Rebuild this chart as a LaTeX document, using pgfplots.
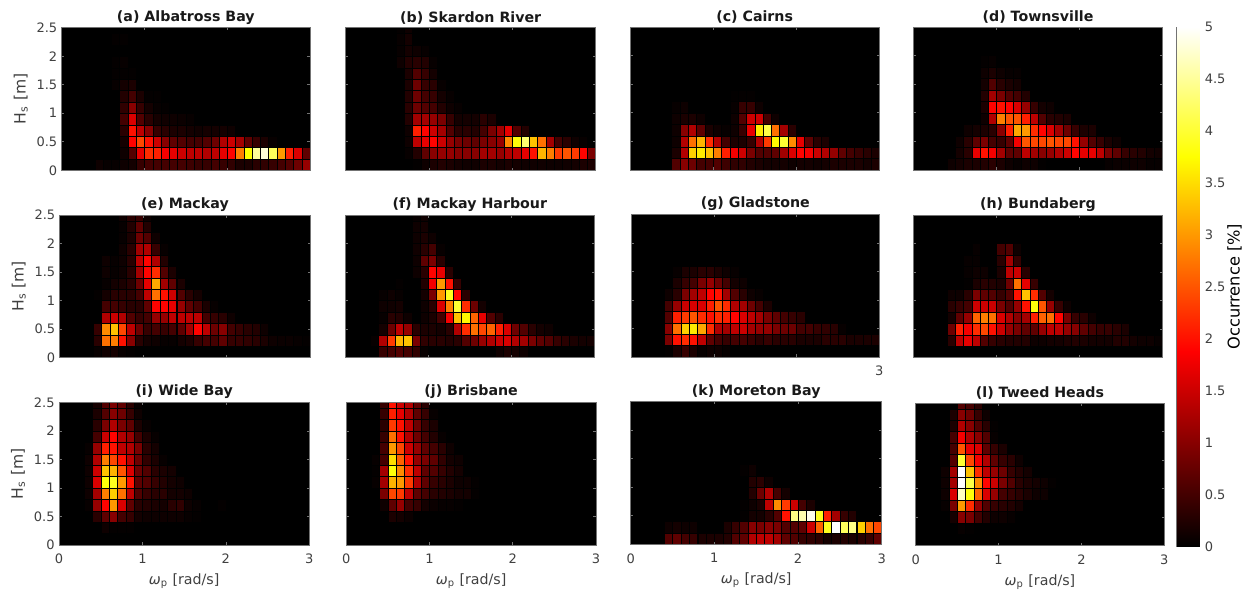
\documentclass[border=0pt]{standalone}
\usepackage{fontspec}
\setmainfont{DejaVu Sans}
\usepackage{pgfplots}
\usepackage{pgfplotstable}
\pgfplotsset{compat=1.18}
\pgfdeclareplotmark{cell}{\pgfpathrectangle{\pgfpoint{-2.075pt}{-2.86pt}}{\pgfpoint{4.15pt}{5.72pt}}\pgfusepathqfillstroke}
\pgfdeclareplotmark{cellh}{\pgfpathrectangle{\pgfpoint{-2.075pt}{-1.43pt}}{\pgfpoint{4.15pt}{2.86pt}}\pgfusepathqfillstroke}
\pgfplotsset{
  colormap={hotm}{rgb(0pt)=(0,0,0); rgb(3pt)=(1,0,0); rgb(6pt)=(1,1,0); rgb(8pt)=(1,1,1)},
  pan/.style n args={4}{at={({#1*0.5pt},{(592-#4)*0.5pt})},anchor=south west,width={(#2-#1)*0.5pt},height={(#4-#3)*0.5pt}},
  base/.style={scale only axis,colormap name=hotm,point meta min=0,point meta max=5,
    axis line style={draw=black!55,line width=0.4pt},
    tick style={draw=black!55,line width=0.3pt},tick align=inside,major tick length=1.3pt,
    tick label style={font=\fontsize{6.5}{8}\selectfont,text=black!75},
    label style={font=\fontsize{7.1}{9}\selectfont,text=black!75},
  },
  cellax/.style={base,axis on top,axis background/.style={fill=black},clip marker paths=true,
    xmin=0,xmax=3,ymin=0,ymax=2.5,xtick={0,1,2,3},ytick={0,0.5,1,1.5,2,2.5},
    xticklabels={},yticklabels={},
    title style={font=\bfseries\fontsize{7.1}{8}\selectfont,text=black!90,yshift=-7.9pt},
    xticklabel style={yshift=-1pt},yticklabel style={xshift=1.3pt}},
  ylab/.style={yticklabels={0,0.5,1,1.5,2,2.5},ylabel={H\textsubscript{s} [m]},ylabel style={yshift=-2.5pt,font=\fontsize{7.8}{9}\selectfont}},
  xlab/.style={xticklabels={0,1,2,3},xlabel={{\itshape ω}\textsubscript{p} [rad/s]},xlabel style={yshift=2pt}},
}
\newcommand\cells[1]{\addplot[scatter,only marks,mark=cell,scatter src=explicit,
   scatter/use mapped color={draw=black,fill=mapped color},mark options={line width=0.13pt},
   restrict expr to domain={\thisrow{r}}{1:12}]
   table[x expr=(\thisrow{c}-0.5)*0.1,y expr=(\thisrow{r}-0.5)*0.2,meta=v]{#1};
   \addplot[scatter,only marks,mark=cellh,scatter src=explicit,
   scatter/use mapped color={draw=black,fill=mapped color},mark options={line width=0.13pt},
   restrict expr to domain={\thisrow{r}}{13:13}]
   table[x expr=(\thisrow{c}-0.5)*0.1,y expr=2.45,meta=v]{#1};}

\pgfplotstableread[row sep=crcr]{r c v\\
1 5 .1\\1 6 .05\\1 7 .05\\1 8 .1\\1 9 .15\\1 10 .4\\1 11 .5\\1 12 .5\\1 13 .5\\1 14 .5\\1 15 .5\\1 16 .45\\1 17 .4\\1 18 .4\\1 19 .5\\1 20 .4\\1 21 .35\\1 22 .2\\1 23 .2\\1 24 .3\\1 25 .35\\1 26 .4\\1 27 .5\\1 28 .6\\1 29 .8\\1 30 1.1\\
2 8 .1\\2 9 .6\\2 10 1.7\\2 11 2.2\\2 12 2.1\\2 13 1.8\\2 14 1.7\\2 15 1.5\\2 16 1.4\\2 17 1.4\\2 18 1.3\\2 19 1.4\\2 20 1.7\\2 21 1.9\\2 22 2.8\\2 23 3.75\\2 24 4.5\\2 25 4.8\\2 26 4.2\\2 27 3.0\\2 28 2.1\\2 29 1.6\\2 30 .7\\
3 8 .15\\3 9 1.9\\3 10 2.4\\3 11 2.0\\3 12 1.5\\3 13 1.0\\3 14 .7\\3 15 .6\\3 16 .5\\3 17 .5\\3 18 .6\\3 19 .8\\3 20 1.3\\3 21 1.5\\3 22 1.2\\3 23 .7\\3 24 .4\\3 25 .2\\3 26 .05\\
4 8 .3\\4 9 2.0\\4 10 1.4\\4 11 1.0\\4 12 .4\\4 13 .3\\4 14 .2\\4 15 .2\\4 16 .15\\4 17 .12\\4 18 .15\\4 19 .15\\4 20 .15\\4 21 .1\\
5 8 .5\\5 9 1.6\\5 10 .6\\5 11 .3\\5 12 .15\\5 13 .12\\5 14 .1\\5 15 .08\\5 16 .05\\
6 8 .35\\6 9 1.0\\6 10 .4\\6 11 .15\\6 12 .05\\6 13 .03\\
7 8 .25\\7 9 .5\\7 10 .2\\7 11 .03\\7 12 .03\\
8 7 .05\\8 8 .15\\8 9 .2\\
9 7 .03\\9 8 .03\\9 9 .03\\
10 7 .03\\10 8 .05\\
12 7 .03\\12 8 .03\\
}\ta
\pgfplotstableread[row sep=crcr]{r c v\\
1 9 .02\\1 10 .1\\1 11 .2\\1 12 .25\\1 13 .2\\1 14 .15\\1 15 .12\\1 16 .12\\1 17 .2\\1 18 .2\\1 19 .15\\1 20 .2\\1 21 .15\\1 22 .12\\1 23 .12\\1 24 .12\\1 25 .1\\1 26 .1\\1 27 .12\\1 28 .15\\1 29 .2\\1 30 .2\\
2 8 .05\\2 9 .25\\2 10 .7\\2 11 1.0\\2 12 1.1\\2 13 1.1\\2 14 1.0\\2 15 1.0\\2 16 1.0\\2 17 1.2\\2 18 1.2\\2 19 1.1\\2 20 1.3\\2 21 1.4\\2 22 1.7\\2 23 2.0\\2 24 3.2\\2 25 2.8\\2 26 2.3\\2 27 2.5\\2 28 2.3\\2 29 1.9\\2 30 .9\\
3 8 .1\\3 9 1.4\\3 10 1.7\\3 11 1.9\\3 12 1.5\\3 13 1.1\\3 14 .9\\3 15 .8\\3 16 .7\\3 17 .9\\3 18 1.0\\3 19 1.1\\3 20 2.9\\3 21 3.8\\3 22 4.3\\3 23 3.3\\3 24 2.7\\3 25 1.2\\3 26 .5\\3 27 .3\\3 28 .1\\3 29 .05\\
4 8 .1\\4 9 2.1\\4 10 1.9\\4 11 1.5\\4 12 1.2\\4 13 .6\\4 14 .3\\4 15 .3\\4 16 .25\\4 17 .5\\4 18 .9\\4 19 1.2\\4 20 1.7\\4 21 .6\\4 22 .25\\
5 8 .25\\5 9 1.2\\5 10 1.2\\5 11 1.1\\5 12 .9\\5 13 .4\\5 14 .15\\5 15 .15\\5 16 .15\\5 17 .3\\5 18 .2\\
6 8 .3\\6 9 .8\\6 10 .6\\6 11 .5\\6 12 .25\\6 13 .1\\6 14 .05\\
7 8 .25\\7 9 .8\\7 10 .5\\7 11 .4\\7 12 .15\\7 13 .05\\
8 8 .2\\8 9 .8\\8 10 .4\\8 11 .3\\8 12 .05\\
9 8 .2\\9 9 .6\\9 10 .4\\9 11 .15\\
10 7 .1\\10 8 .25\\10 9 .3\\10 10 .25\\10 11 .05\\
11 7 .05\\11 8 .15\\11 9 .1\\11 10 .05\\
12 7 .05\\12 8 .15\\
13 7 .03\\13 8 .1\\
}\tb
\pgfplotstableread[row sep=crcr]{r c v\\
1 6 .6\\1 7 1.0\\1 8 .8\\1 9 .5\\1 10 .5\\1 11 .6\\1 12 .45\\1 13 .35\\1 14 .35\\1 15 .25\\1 16 .2\\1 17 .15\\1 18 .15\\1 19 .15\\1 20 .1\\1 21 .15\\1 22 .15\\1 23 .12\\1 24 .15\\1 25 .2\\1 26 .2\\1 27 .2\\1 28 .2\\1 29 .15\\1 30 .2\\
2 6 .2\\2 7 1.3\\2 8 3.4\\2 9 3.6\\2 10 3.3\\2 11 2.8\\2 12 2.1\\2 13 1.8\\2 14 1.5\\2 15 .9\\2 16 .6\\2 17 .6\\2 18 .7\\2 19 1.2\\2 20 1.6\\2 21 1.9\\2 22 1.8\\2 23 1.5\\2 24 1.3\\2 25 1.1\\2 26 .7\\2 27 .5\\2 28 .4\\2 29 .3\\2 30 .2\\
3 6 .1\\3 7 1.3\\3 8 2.7\\3 9 3.2\\3 10 2.2\\3 11 1.3\\3 12 .5\\3 13 .2\\3 14 .2\\3 15 .4\\3 16 1.3\\3 17 2.3\\3 18 3.7\\3 19 4.0\\3 20 2.9\\3 21 1.7\\3 22 .7\\3 23 .3\\3 24 .2\\
4 6 .1\\4 7 1.0\\4 8 1.3\\4 9 .7\\4 10 .2\\4 11 .1\\4 12 .05\\4 13 .1\\4 14 .4\\4 15 1.7\\4 16 3.6\\4 17 4.1\\4 18 2.7\\4 19 1.2\\4 20 .3\\
5 6 .1\\5 7 .2\\5 8 .2\\5 9 .1\\5 13 .1\\5 14 .6\\5 15 1.5\\5 16 1.5\\5 17 .5\\5 18 .1\\
6 6 .05\\6 7 .1\\6 13 .05\\6 14 .4\\6 15 .4\\6 16 .1\\
7 13 .02\\7 14 .03\\7 15 .03\\
}\tc
\pgfplotstableread[row sep=crcr]{r c v\\
1 5 .1\\1 6 .15\\1 7 .2\\1 8 .2\\1 9 .25\\1 10 .3\\1 11 .2\\1 12 .1\\1 13 .05\\1 14 .1\\1 15 .1\\1 16 .02\\1 24 .05\\1 25 .08\\1 26 .08\\1 27 .1\\1 28 .1\\1 29 .05\\1 30 .05\\
2 6 .15\\2 7 .3\\2 8 1.7\\2 9 2.0\\2 10 1.8\\2 11 1.2\\2 12 .7\\2 13 .7\\2 14 1.4\\2 15 1.2\\2 16 1.0\\2 17 1.1\\2 18 1.3\\2 19 1.5\\2 20 1.9\\2 21 1.7\\2 22 1.7\\2 23 1.4\\2 24 .9\\2 25 .7\\2 26 .4\\2 27 .3\\2 28 .25\\2 29 .15\\2 30 .12\\
3 6 .1\\3 7 .3\\3 8 .7\\3 9 .9\\3 10 .5\\3 11 .4\\3 12 .7\\3 13 1.8\\3 14 2.5\\3 15 2.4\\3 16 2.4\\3 17 2.5\\3 18 2.4\\3 19 2.4\\3 20 2.0\\3 21 1.1\\3 22 .6\\3 23 .4\\3 24 .2\\3 25 .1\\
4 7 .1\\4 8 .15\\4 9 .2\\4 10 .3\\4 11 1.0\\4 12 2.1\\4 13 3.1\\4 14 3.0\\4 15 2.2\\4 16 1.9\\4 17 1.6\\4 18 1.2\\4 19 .8\\4 20 .4\\4 21 .2\\4 22 .2\\
5 9 .1\\5 10 1.3\\5 11 2.8\\5 12 2.5\\5 13 2.5\\5 14 2.1\\5 15 1.4\\5 16 .6\\5 17 .3\\5 18 .25\\5 19 .2\\
6 9 .2\\6 10 1.9\\6 11 2.0\\6 12 1.9\\6 13 1.6\\6 14 1.1\\6 15 .4\\6 16 .15\\6 17 .1\\
7 9 .25\\7 10 1.2\\7 11 .9\\7 12 .6\\7 13 .5\\7 14 .25\\
8 9 .15\\8 10 .6\\8 11 .3\\8 12 .2\\8 13 .15\\
9 9 .1\\9 10 .2\\9 11 .1\\9 12 .05\\9 13 .05\\
10 9 .03\\10 10 .05\\
}\td
\pgfplotstableread[row sep=crcr]{r c v\\
1 5 .05\\1 6 .12\\1 7 .15\\1 8 .05\\1 9 .02\\
2 5 .3\\2 6 2.7\\2 7 2.8\\2 8 2.0\\2 9 1.0\\2 10 .3\\2 11 .15\\2 12 .1\\2 13 .05\\2 14 .05\\2 15 .15\\2 16 .2\\2 17 .4\\2 18 .5\\2 19 .5\\2 20 .7\\2 21 .4\\2 22 .4\\2 23 .35\\2 24 .3\\2 25 .2\\2 26 .1\\2 27 .08\\2 28 .08\\2 29 .05\\2 30 .03\\
3 5 .4\\3 6 2.9\\3 7 3.3\\3 8 2.4\\3 9 1.4\\3 10 .8\\3 11 .4\\3 12 .5\\3 13 .4\\3 14 .5\\3 15 .7\\3 16 1.2\\3 17 1.9\\3 18 1.4\\3 19 .8\\3 20 1.0\\3 21 .5\\3 22 .4\\3 23 .3\\3 24 .25\\3 25 .1\\
4 6 1.3\\4 7 1.5\\4 8 1.3\\4 9 .6\\4 10 .4\\4 11 .5\\4 12 1.1\\4 13 1.1\\4 14 1.4\\4 15 1.4\\4 16 1.4\\4 17 1.4\\4 18 .5\\4 19 .4\\4 20 .3\\4 21 .1\\
5 6 .5\\5 7 .5\\5 8 .4\\5 9 .3\\5 10 .3\\5 11 .7\\5 12 1.9\\5 13 1.9\\5 14 1.7\\5 15 1.1\\5 16 .7\\5 17 .5\\5 18 .2\\5 19 .05\\
6 5 .03\\6 6 .15\\6 7 .3\\6 8 .3\\6 9 .3\\6 10 .5\\6 11 1.4\\6 12 2.7\\6 13 2.0\\6 14 1.5\\6 15 .6\\6 16 .3\\6 17 .15\\
7 6 .05\\7 7 .15\\7 8 .2\\7 9 .3\\7 10 .8\\7 11 1.7\\7 12 3.1\\7 13 1.2\\7 14 .7\\7 15 .2\\
8 6 .1\\8 7 .05\\8 8 .1\\8 9 .3\\8 10 1.2\\8 11 1.9\\8 12 2.2\\8 13 .6\\8 14 .2\\
9 6 .1\\9 7 .05\\9 8 .1\\9 9 .3\\9 10 1.4\\9 11 1.9\\9 12 1.3\\9 13 .25\\
10 8 .1\\10 9 .3\\10 10 1.2\\10 11 1.3\\10 12 .4\\10 13 .05\\
11 8 .05\\11 9 .2\\11 10 .8\\11 11 .6\\11 12 .1\\
12 8 .05\\12 9 .25\\12 10 .7\\12 11 .25\\
13 8 .1\\13 9 .3\\13 10 .4\\13 11 .1\\
}\te
\pgfplotstableread[row sep=crcr]{r c v\\
1 5 .4\\1 6 .5\\1 7 .6\\1 8 .5\\1 9 .35\\1 10 .05\\1 19 .1\\1 20 .2\\1 21 .15\\1 22 .1\\
2 4 .05\\2 5 1.3\\2 6 2.3\\2 7 3.2\\2 8 3.3\\2 9 .9\\2 10 .35\\2 11 .3\\2 12 .3\\2 13 .25\\2 14 .3\\2 15 .6\\2 16 .8\\2 17 1.1\\2 18 1.3\\2 19 1.5\\2 20 1.6\\2 21 1.3\\2 22 1.2\\2 23 .9\\2 24 .7\\2 25 .6\\2 26 .4\\2 27 .3\\2 28 .2\\2 29 .15\\2 30 .15\\
3 5 .15\\3 6 .8\\3 7 1.4\\3 8 1.1\\3 9 .3\\3 10 .2\\3 11 .2\\3 12 .15\\3 13 .3\\3 14 1.3\\3 15 2.2\\3 16 2.7\\3 17 2.4\\3 18 2.6\\3 19 2.1\\3 20 1.6\\3 21 .8\\3 22 .6\\3 23 .3\\3 24 .15\\3 25 .1\\
4 5 .05\\4 6 .3\\4 7 .25\\4 8 .1\\4 10 .1\\4 11 .2\\4 12 .5\\4 13 1.8\\4 14 3.3\\4 15 3.7\\4 16 2.6\\4 17 1.7\\4 18 .6\\4 19 .3\\
5 5 .1\\5 6 .12\\5 7 .15\\5 10 .1\\5 11 .3\\5 12 1.6\\5 13 2.8\\5 14 4.0\\5 15 2.2\\5 16 .8\\5 17 .15\\
6 5 .05\\6 6 .1\\6 7 .05\\6 10 .15\\6 11 .9\\6 12 3.0\\6 13 3.9\\6 14 1.9\\6 15 .3\\
7 7 .03\\7 10 .25\\7 11 1.8\\7 12 3.0\\7 13 2.0\\7 14 .4\\
8 9 .1\\8 10 .3\\8 11 1.9\\8 12 1.7\\8 13 .3\\
9 9 .1\\9 10 .7\\9 11 .9\\9 12 .3\\
10 9 .12\\10 10 .3\\10 11 .5\\10 12 .05\\
11 9 .1\\11 10 .2\\11 11 .1\\
12 9 .1\\12 10 .15\\
13 9 .05\\13 10 .1\\
}\tf
\pgfplotstableread[row sep=crcr]{r c v\\
1 5 .02\\1 6 .2\\1 7 .4\\1 8 .2\\1 9 .05\\1 10 .1\\1 11 .1\\1 12 .05\\
2 5 .9\\2 6 2.0\\2 7 2.2\\2 8 2.0\\2 9 1.4\\2 10 .7\\2 11 .5\\2 12 .4\\2 13 .5\\2 14 .5\\2 15 .4\\2 16 .3\\2 17 .4\\2 18 .3\\2 19 .3\\2 20 .3\\2 21 .2\\2 22 .2\\2 23 .2\\2 24 .3\\2 25 .3\\2 26 .3\\2 27 .2\\2 28 .2\\2 29 .2\\2 30 .2\\
3 5 1.0\\3 6 2.7\\3 7 3.4\\3 8 3.6\\3 9 3.1\\3 10 2.2\\3 11 1.3\\3 12 1.2\\3 13 1.4\\3 14 1.5\\3 15 1.2\\3 16 1.1\\3 17 1.1\\3 18 .9\\3 19 .8\\3 20 .8\\3 21 .5\\3 22 .5\\3 23 .4\\3 24 .35\\3 25 .3\\3 26 .05\\
4 5 .6\\4 6 2.1\\4 7 2.3\\4 8 2.5\\4 9 2.2\\4 10 2.0\\4 11 2.2\\4 12 2.1\\4 13 1.9\\4 14 1.6\\4 15 1.4\\4 16 1.2\\4 17 .9\\4 18 .7\\4 19 .5\\4 20 .4\\4 21 .3\\
5 5 .5\\5 6 1.1\\5 7 1.5\\5 8 1.6\\5 9 1.6\\5 10 2.1\\5 11 2.5\\5 12 2.2\\5 13 1.3\\5 14 1.2\\5 15 .8\\5 16 .5\\5 17 .2\\
6 5 .1\\6 6 .3\\6 7 .9\\6 8 1.2\\6 9 1.4\\6 10 1.9\\6 11 2.0\\6 12 1.2\\6 13 .6\\6 14 .3\\6 15 .1\\6 16 .05\\
7 6 .2\\7 7 .4\\7 8 .5\\7 9 .9\\7 10 1.1\\7 11 .8\\7 12 .5\\7 13 .15\\7 14 .1\\
8 6 .05\\8 7 .2\\8 8 .2\\8 9 .3\\8 10 .3\\8 11 .2\\8 12 .1\\8 13 .05\\
}\tg
\pgfplotstableread[row sep=crcr]{r c v\\
2 5 .3\\2 6 1.4\\2 7 1.7\\2 8 1.4\\2 9 .6\\2 10 .4\\2 11 .3\\2 12 .25\\2 13 .25\\2 14 .25\\2 15 .1\\2 16 .1\\2 17 .15\\2 18 .15\\2 19 .2\\2 20 .25\\2 21 .2\\2 22 .15\\2 23 .15\\2 24 .15\\2 25 .25\\2 26 .25\\2 27 .15\\2 28 .1\\2 29 .1\\2 30 .05\\
3 5 .8\\3 6 2.1\\3 7 1.8\\3 8 2.2\\3 9 2.4\\3 10 2.0\\3 11 1.5\\3 12 1.1\\3 13 .9\\3 14 .7\\3 15 .7\\3 16 1.1\\3 17 1.4\\3 18 1.4\\3 19 1.1\\3 20 1.0\\3 21 .7\\3 22 .5\\3 23 .4\\3 24 .4\\3 25 .3\\3 26 .2\\
4 5 .15\\4 6 .7\\4 7 1.1\\4 8 2.6\\4 9 2.8\\4 10 2.7\\4 11 1.6\\4 12 1.3\\4 13 1.0\\4 14 1.2\\4 15 2.1\\4 16 2.6\\4 17 2.7\\4 18 1.9\\4 19 .9\\4 20 .4\\4 21 .3\\4 22 .1\\
5 5 .3\\5 6 .4\\5 7 .5\\5 8 1.5\\5 9 1.5\\5 10 1.5\\5 11 .9\\5 12 .6\\5 13 1.1\\5 14 2.0\\5 15 3.8\\5 16 2.5\\5 17 1.1\\5 18 .4\\5 19 .1\\
6 5 .1\\6 6 .1\\6 7 .3\\6 8 .9\\6 9 .7\\6 10 .6\\6 11 .4\\6 12 .6\\6 13 2.0\\6 14 3.3\\6 15 2.2\\6 16 .6\\6 17 .15\\
7 7 .02\\7 8 .2\\7 9 .3\\7 10 .25\\7 11 .2\\7 12 .8\\7 13 2.7\\7 14 1.7\\7 15 .4\\
8 7 .05\\8 8 .1\\8 9 .1\\8 11 .2\\8 12 1.4\\8 13 1.5\\8 14 .3\\
9 7 .05\\9 8 .05\\9 11 .3\\9 12 1.2\\9 13 .4\\
10 8 .05\\10 11 .5\\10 12 .6\\10 13 .1\\
}\thh
\pgfplotstableread[row sep=crcr]{r c v\\
2 6 .1\\2 7 .03\\2 8 .03\\2 9 .03\\
3 5 .3\\3 6 .7\\3 7 1.0\\3 8 .5\\3 9 .4\\3 10 .15\\3 11 .1\\3 12 .1\\3 13 .1\\3 14 .1\\3 15 .1\\3 16 .05\\3 17 .03\\
4 4 .05\\4 5 1.1\\4 6 1.9\\4 7 3.0\\4 8 1.6\\4 9 .7\\4 10 .3\\4 11 .25\\4 12 .2\\4 13 .15\\4 14 .3\\4 15 .35\\4 16 .1\\4 17 .05\\4 20 .03\\
5 4 .1\\5 5 1.2\\5 6 2.8\\5 7 3.4\\5 8 2.7\\5 9 1.4\\5 10 .6\\5 11 .4\\5 12 .3\\5 13 .3\\5 14 .15\\5 15 .15\\5 16 .1\\
6 4 .1\\6 5 1.6\\6 6 3.8\\6 7 3.9\\6 8 3.0\\6 9 2.0\\6 10 .7\\6 11 .6\\6 12 .4\\6 13 .25\\6 14 .15\\6 15 .1\\
7 4 .1\\7 5 1.5\\7 6 3.3\\7 7 3.2\\7 8 2.5\\7 9 1.6\\7 10 .8\\7 11 .6\\7 12 .3\\7 13 .2\\7 14 .15\\
8 4 .1\\8 5 1.3\\8 6 2.8\\8 7 2.4\\8 8 2.0\\8 9 1.4\\8 10 .8\\8 11 .35\\8 12 .2\\8 13 .05\\
9 4 .05\\9 5 1.1\\9 6 2.1\\9 7 2.0\\9 8 1.4\\9 9 1.3\\9 10 .9\\9 11 .3\\9 12 .15\\
10 5 .5\\10 6 1.5\\10 7 1.9\\10 8 1.3\\10 9 1.1\\10 10 .5\\10 11 .2\\10 12 .05\\
11 5 .3\\11 6 .9\\11 7 1.3\\11 8 .9\\11 9 .7\\11 10 .2\\11 11 .05\\
12 5 .2\\12 6 .6\\12 7 1.0\\12 8 .8\\12 9 .4\\12 10 .1\\
13 5 .15\\13 6 .6\\13 7 .9\\13 8 .7\\13 9 .3\\13 10 .05\\
}\ti
\pgfplotstableread[row sep=crcr]{r c v\\
3 6 .2\\3 7 .15\\3 8 .08\\
4 5 .1\\4 6 .7\\4 7 1.1\\4 8 .5\\4 9 .4\\4 10 .15\\4 11 .08\\4 12 .05\\4 13 .05\\4 14 .03\\
5 5 .9\\5 6 2.4\\5 7 2.3\\5 8 1.4\\5 9 .7\\5 10 .5\\5 11 .3\\5 12 .25\\5 13 .2\\5 14 .15\\5 15 .15\\5 16 .03\\
6 4 .05\\6 5 1.2\\6 6 3.2\\6 7 3.0\\6 8 2.3\\6 9 1.3\\6 10 .7\\6 11 .4\\6 12 .3\\6 13 .2\\6 14 .1\\6 15 .1\\6 16 .03\\
7 4 .03\\7 5 1.2\\7 6 3.8\\7 7 2.9\\7 8 2.2\\7 9 1.4\\7 10 .7\\7 11 .6\\7 12 .4\\7 13 .25\\7 14 .15\\
8 4 .05\\8 5 .5\\8 6 3.5\\8 7 2.6\\8 8 2.0\\8 9 1.1\\8 10 .9\\8 11 .7\\8 12 .35\\8 13 .15\\8 14 .1\\
9 5 .5\\9 6 3.0\\9 7 2.4\\9 8 1.5\\9 9 1.1\\9 10 .7\\9 11 .5\\9 12 .3\\9 13 .1\\
10 5 .4\\10 6 2.7\\10 7 2.0\\10 8 1.3\\10 9 .8\\10 10 .5\\10 11 .25\\10 12 .05\\
11 5 .3\\11 6 2.3\\11 7 2.0\\11 8 1.4\\11 9 .8\\11 10 .4\\11 11 .2\\
12 5 .4\\12 6 2.1\\12 7 1.7\\12 8 1.3\\12 9 .7\\12 10 .4\\12 11 .05\\
13 5 .4\\13 6 2.0\\13 7 1.5\\13 8 1.3\\13 9 .7\\13 10 .3\\
}\tj
\pgfplotstableread[row sep=crcr]{r c v\\
1 5 .6\\1 6 .7\\1 7 .5\\1 8 .4\\1 9 .2\\1 10 .2\\1 11 .2\\1 12 .25\\1 13 .6\\1 14 .7\\1 15 1.3\\1 16 1.4\\1 17 1.4\\1 18 1.2\\1 19 .7\\1 20 .6\\1 21 .4\\1 22 .35\\1 23 .3\\1 24 .15\\1 25 .2\\1 26 .25\\1 27 .2\\1 28 .3\\1 29 .4\\1 30 .7\\
2 5 .1\\2 6 .15\\2 7 .1\\2 8 .1\\2 12 .2\\2 13 .4\\2 14 .6\\2 15 1.0\\2 16 .9\\2 17 1.0\\2 18 .9\\2 19 .6\\2 20 .6\\2 21 .7\\2 22 1.5\\2 23 2.6\\2 24 3.9\\2 25 5\\2 26 4.2\\2 27 4.4\\2 28 3.4\\2 29 2.7\\2 30 2.4\\
3 14 .02\\3 15 .15\\3 16 .15\\3 17 .3\\3 18 .6\\3 19 2.0\\3 20 4.4\\3 21 4.6\\3 22 4.9\\3 23 3.9\\3 24 2.1\\3 25 1.2\\3 26 .4\\3 27 .25\\
4 14 .03\\4 15 .1\\4 16 .2\\4 17 1.4\\4 18 2.9\\4 19 2.3\\4 20 1.5\\4 21 .5\\4 22 .2\\
5 15 .25\\5 16 .8\\5 17 1.3\\5 18 .5\\5 19 .15\\
6 15 .25\\6 16 .3\\6 17 .1\\
7 14 .03\\7 15 .1\\
}\tk
\pgfplotstableread[row sep=crcr]{r c v\\
2 6 .05\\2 7 .02\\
3 5 .15\\3 6 1.0\\3 7 .9\\3 8 .5\\3 9 .25\\3 10 .1\\3 11 .1\\3 12 .05\\
4 4 .05\\4 5 .9\\4 6 3.0\\4 7 2.2\\4 8 1.1\\4 9 .6\\4 10 .4\\4 11 .3\\4 12 .25\\4 13 .15\\
5 4 .1\\5 5 1.6\\5 6 4.7\\5 7 3.8\\5 8 2.6\\5 9 1.6\\5 10 1.1\\5 11 .5\\5 12 .4\\5 13 .3\\5 14 .2\\5 15 .1\\5 16 .1\\
6 4 .1\\6 5 1.2\\6 6 5.0\\6 7 4.1\\6 8 2.9\\6 9 1.9\\6 10 1.5\\6 11 .9\\6 12 .6\\6 13 .3\\6 14 .2\\6 15 .15\\6 16 .1\\6 17 .03\\
7 4 .1\\7 5 1.2\\7 6 5.0\\7 7 3.3\\7 8 2.2\\7 9 1.4\\7 10 1.1\\7 11 .8\\7 12 .4\\7 13 .25\\7 14 .15\\
8 5 .6\\8 6 4.0\\8 7 2.4\\8 8 1.8\\8 9 1.3\\8 10 .7\\8 11 .4\\8 12 .3\\8 13 .1\\
9 5 .5\\9 6 2.5\\9 7 1.7\\9 8 1.6\\9 9 .7\\9 10 .4\\9 11 .2\\
10 5 .5\\10 6 1.8\\10 7 1.3\\10 8 1.0\\10 9 .6\\10 10 .05\\
11 5 .2\\11 6 1.3\\11 7 1.0\\11 8 .6\\11 9 .3\\11 10 .03\\
12 5 .2\\12 6 1.0\\12 7 .8\\12 8 .4\\12 9 .1\\
13 6 .6\\13 7 .5\\13 8 .3\\
}\tl

\begin{document}
\begin{tikzpicture}
\path[use as bounding box] (0,0) rectangle (626pt,296pt);
\begin{axis}[cellax,pan={61.7}{310}{27.7}{170.3},ylab,title={(a) Albatross Bay}]\cells{\ta}\end{axis}
\begin{axis}[cellax,pan={345.7}{595.7}{27.7}{170.3},title={(b) Skardon River}]\cells{\tb}\end{axis}
\begin{axis}[cellax,pan={630}{879.3}{27}{170},title={(c) Cairns}]\cells{\tc}\end{axis}
\begin{axis}[cellax,pan={913.7}{1162.3}{27}{170},title={(d) Townsville}]\cells{\td}\end{axis}
\begin{axis}[cellax,pan={59.7}{310.3}{215}{357.7},ylab,title={(e) Mackay}]\cells{\te}\end{axis}
\begin{axis}[cellax,pan={345.3}{594.3}{215}{357.7},title={(f) Mackay Harbour}]\cells{\tf}\end{axis}
\begin{axis}[cellax,pan={631.3}{879.3}{214.3}{357},xticklabels={,,,3},title={(g) Gladstone}]\cells{\tg}\end{axis}
\begin{axis}[cellax,pan={913.7}{1162.3}{215}{357.7},title={(h) Bundaberg}]\cells{\thh}\end{axis}
\begin{axis}[cellax,pan={59}{309.3}{402.3}{545},ylab,xlab,title={(i) Wide Bay}]\cells{\ti}\end{axis}
\begin{axis}[cellax,pan={346.3}{596}{402.3}{545},xlab,title={(j) Brisbane}]\cells{\tj}\end{axis}
\begin{axis}[cellax,pan={630.7}{881.7}{401.7}{544.3},xlab,title={(k) Moreton Bay}]\cells{\tk}\end{axis}
\begin{axis}[cellax,pan={915.7}{1164.3}{403}{545.7},xlab,title={(l) Tweed Heads}]\cells{\tl}\end{axis}
\begin{axis}[base,pan={1176.7}{1199.3}{27}{546.3},xmin=0,xmax=1,ymin=0,ymax=5,xtick=\empty,
  ytick={0,0.5,1,1.5,2,2.5,3,3.5,4,4.5,5},yticklabels={0,0.5,1,1.5,2,2.5,3,3.5,4,4.5,5},
  ytick pos=right,yticklabel pos=right,ylabel near ticks,ylabel={Occurrence [\%]},
  yticklabel style={xshift=-0.8pt},
  ylabel shift=-6pt,ylabel style={font=\fontsize{8.1}{10}\selectfont}]
\addplot[surf,shader=interp,point meta=y,mesh/cols=2] coordinates {(0,0) (1,0) (0,5) (1,5)};
\end{axis}
\end{tikzpicture}
\end{document}
